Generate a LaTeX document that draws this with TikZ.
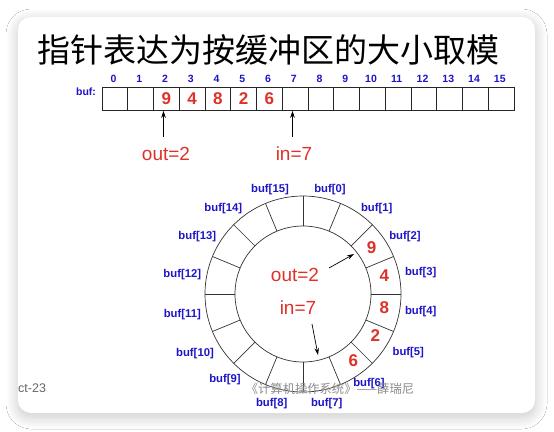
\documentclass[tikz,border=0pt]{standalone}
\usepackage{fontspec}
\setmainfont{Liberation Sans}
\newfontfamily\cjk{Noto Sans CJK SC}
\usetikzlibrary{arrows.meta,shadows.blur,calc}
\definecolor{bufblue}{RGB}{30,20,200}
\definecolor{numred}{RGB}{222,50,40}
\definecolor{wmgray}{RGB}{140,140,140}
\tikzset{
 cell/.style={draw=black!85, line width=0.7pt, minimum width=25.75pt, minimum height=23.5pt, inner sep=0pt, outer sep=0pt},
 idx/.style={text=bufblue, font=\fontsize{10.5}{11}\selectfont\bfseries, inner sep=0pt},
 buflbl/.style={text=bufblue, font=\fontsize{11.3}{12}\selectfont\bfseries, inner sep=0pt},
 digit/.style={text=numred, font=\fontsize{17}{18}\selectfont\bfseries, inner sep=0pt},
 ptrtext/.style={text=numred, font=\fontsize{19}{20}\selectfont, inner sep=0pt},
 ptr/.style={-{Stealth[length=7pt,width=4.5pt]}, line width=0.7pt},
 ring/.style={draw=black!80, line width=0.7pt},
}
\begin{document}
\begin{tikzpicture}[x=1pt,y=-1pt]
\useasboundingbox (0,0) rectangle (554,431);
\fill[white] (0,0) rectangle (554,431);
\fill[white, rounded corners=13pt, blur shadow={shadow xshift=0pt, shadow yshift=-4pt, shadow blur radius=12pt, shadow opacity=22, shadow blur steps=16}] (18,17) rectangle (535,413);
% title
\node[font=\cjk\fontsize{33}{34}\selectfont, inner sep=0pt] (title) at (268,50) {指针表达为按缓冲区的大小取模};
% array
\foreach \i in {0,...,15} {
  \node[cell] (c\i) at ({114.875+25.75*\i},99) {};
  \node[idx] (i\i) at ({113.5+25.75*\i},79) {\i};
}
\node[idx] (buf) at (86,92) {buf:};
\foreach \i/\d in {2/9,3/4,4/8,5/2,6/6}
  \node[digit] (d\i) at (c\i) {\d};
\coordinate (ot) at (163.5,137);
\coordinate (it) at (292.5,137);
\draw[ptr] (ot) -- (ot |- c2.south);
\draw[ptr] (it) -- (it |- c7.south);
\node[ptrtext] (outA) at (166,154) {out=2};
\node[ptrtext] (inA) at (294,154) {in=7};
% ring
\coordinate (ctr) at (303,294);
\draw[ring] (ctr) circle[radius=98pt];
\draw[ring] (ctr) circle[radius=68pt];
\foreach \k in {0,...,15}
  \draw[ring] ($(ctr)+({90-22.5*\k}:68pt)$) -- ($(ctr)+({90-22.5*\k}:98pt)$);
\foreach \k/\x/\y in {0/330/190, 1/376.7/208.3, 2/405/237, 3/420.7/272.7,
  4/420.7/311.7, 5/408.3/352.3, 6/369/384, 7/326.7/404, 8/271.7/404,
  9/225/380, 10/195/353.3, 11/182.3/315, 12/182.3/275, 13/197.3/236.7,
  14/223.3/208.3, 15/270/190}
  \node[buflbl] (b\k) at (\x,\y) {buf[\k]};
\foreach \k/\d/\x/\y in {2/9/371.7/247.7, 3/4/384.3/275.7, 4/8/384.3/307.3,
  5/2/375.3/336, 6/6/353.3/361}
  \node[digit] (r\k) at (\x,\y) {\d};
\node[ptrtext] (outB) at (295,275) {out=2};
\node[ptrtext] (inB) at (298,308) {in=7};
\coordinate (ob1) at (329,268);
\coordinate (ob2) at (354,254);
\coordinate (ib1) at (312,324);
\coordinate (ib2) at (318,355);
\draw[ptr] (ob1) -- (ob2);
\draw[ptr] (ib1) -- (ib2);
% footer
\node[anchor=west, text=black!60, font=\fontsize{12.5}{13}\selectfont, inner sep=0pt] (ct) at (18,388) {ct-23};
\node[font=\cjk\fontsize{12.3}{13}\selectfont, text=wmgray, inner sep=0pt] (wm) at (330,389) {《计算机操作系统》——薛瑞尼};
\end{tikzpicture}
\end{document}
